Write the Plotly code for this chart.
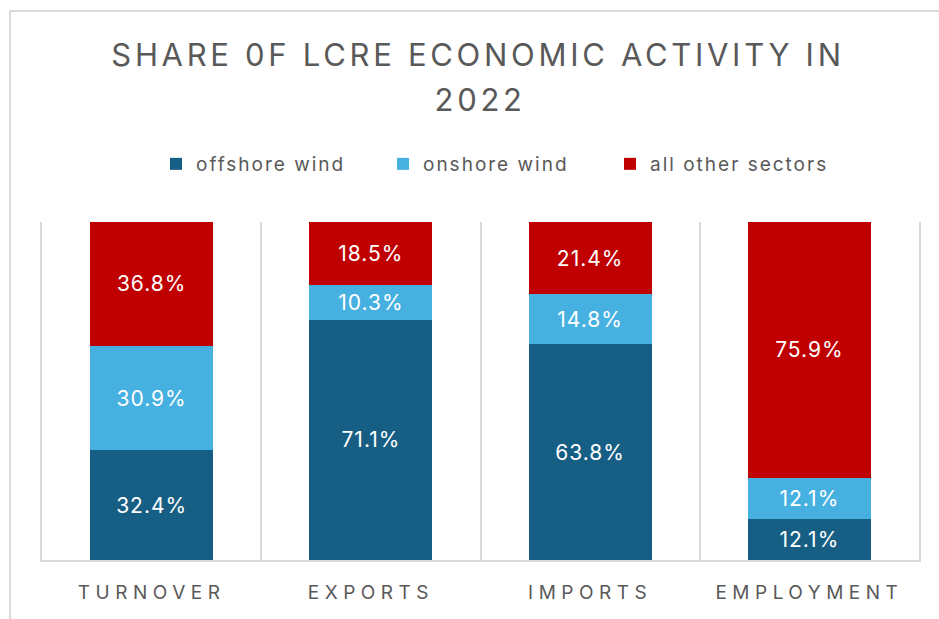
import plotly.graph_objects as go

categories = ["TURNOVER", "EXPORTS", "IMPORTS", "EMPLOYMENT"]
offshore_wind = [32.4, 71.1, 63.8, 12.1]
onshore_wind = [30.9, 10.3, 14.8, 12.1]
all_other = [36.8, 18.5, 21.4, 75.9]

title_line1 = "SHARE 0F LCRE ECONOMIC ACTIVITY IN"
title_line2 = "2022"

series = [
    ("offshore wind", offshore_wind, "#165E83"),
    ("onshore wind", onshore_wind, "#46B1E1"),
    ("all other sectors", all_other, "#C00000"),
]

W, H = 939, 619
L, R, T, B = 42, 20, 222, 59
pw, ph = W - L - R, H - T - B

def px_x(p):
    return (p - L) / pw

def px_y(p):
    return (H - B - p) / ph

fig = go.Figure()
for name, vals, color in series:
    fig.add_trace(go.Bar(
        name=name, x=categories, y=vals,
        marker=dict(color=color, line=dict(width=0)),
        texttemplate="%{y:.1f}%", textposition="inside",
        insidetextanchor="middle", textangle=0, constraintext="none",
        textfont=dict(family="Inter", size=21, color="white"),
    ))

grey = "#595959"
gridc = "#D9D9D9"
fig.update_layout(
    width=W, height=H,
    margin=dict(l=L, r=R, t=T, b=B, pad=0),
    paper_bgcolor="white", plot_bgcolor="white",
    barmode="stack", bargap=0.44,
    title=dict(
        text=title_line1,
        x=478 / W, xanchor="center", xref="container",
        y=1 - 44 / H, yanchor="top", yref="container",
        font=dict(family="Inter", size=31, color=grey),
    ),
    annotations=[dict(
        text=title_line2, xref="paper", yref="paper",
        x=px_x(480), y=px_y(100), xanchor="center", yanchor="middle",
        showarrow=False, font=dict(family="Inter", size=31, color=grey),
    )],
    legend=dict(
        orientation="h", x=px_x(156), xanchor="left",
        y=px_y(164), yanchor="middle", traceorder="normal",
        entrywidthmode="pixels", entrywidth=182,
        font=dict(family="Inter", size=19, color=grey),
        bgcolor="rgba(0,0,0,0)",
    ),
    xaxis=dict(
        type="category", tickson="boundaries", showgrid=True,
        gridcolor=gridc, gridwidth=1.5, showline=True, linecolor=gridc,
        linewidth=1.5, ticks="", ticklabelstandoff=14,
        tickfont=dict(family="Inter", size=19, color=grey),
        range=[-0.5, 3.5], fixedrange=True,
    ),
    yaxis=dict(
        range=[0, 100], showgrid=False, zeroline=False,
        showticklabels=False, showline=True, mirror=True,
        linecolor=gridc, linewidth=1.5, ticks="", fixedrange=True,
    ),
    shapes=[
        dict(type="line", xref="paper", yref="paper",
             x0=px_x(10), x1=px_x(10), y0=px_y(H + 10), y1=px_y(11),
             line=dict(color=gridc, width=2)),
        dict(type="line", xref="paper", yref="paper",
             x0=px_x(10), x1=px_x(W + 10), y0=px_y(11), y1=px_y(11),
             line=dict(color=gridc, width=2)),
    ],
)

post = """
var gd = document.getElementById('{plot_id}');
function sp(sel, v){ gd.querySelectorAll(sel).forEach(function(t){ t.style.letterSpacing = v; }); }
sp('text.gtitle', '3.7px');
sp('.annotation-text', '3.7px');
sp('.xtick text', '5.5px');
sp('text.legendtext', '2px');
sp('text.bartext', '1px');
"""

fig.write_html("out.html", post_script=post, config={"displayModeBar": False})
